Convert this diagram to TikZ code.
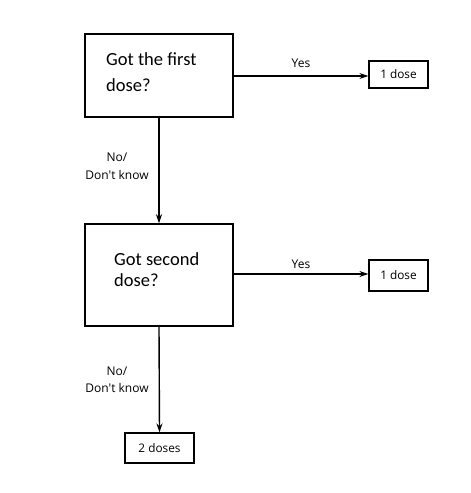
\documentclass[tikz,border=0pt]{standalone}
\usepackage{fontspec}
\setmainfont{Carlito}
\newfontfamily\labelfont{Open Sans}
\usetikzlibrary{arrows.meta}
\begin{document}
\begin{tikzpicture}[x=1pt,y=-1pt,
  qbox/.style={draw,line width=1.4pt,inner sep=0pt},
  rbox/.style={draw,line width=1.2pt,inner sep=0pt,font=\labelfont\fontsize{11.8}{13}\selectfont},
  qtext/.style={inner sep=0pt,anchor=base west,font=\fontsize{18.5}{22}\selectfont},
  lab/.style={inner sep=0pt,anchor=base,font=\labelfont\fontsize{12}{13}\selectfont},
  flow/.style={line width=1.4pt,-{Stealth[length=9pt,width=6pt]}}]
\useasboundingbox (0,0) rectangle (471,493);
\node[qbox,minimum width=148pt,minimum height=83pt] (q1) at (159,75.5) {};
\node[qbox,minimum width=148pt,minimum height=102pt] (q2) at (159,275) {};
\node[qtext] (t1a) at (106,65.7) {Got the first};
\node[qtext] (t1b) at (106,91.7) {dose?};
\node[qtext] (t2a) at (114,265) {Got second};
\node[qtext] (t2b) at (114,286.7) {dose?};
\node[rbox,minimum width=59pt,minimum height=27pt] (r1) at (398.5,74.5) {1 dose};
\node[rbox,minimum width=59pt,minimum height=31pt] (r2) at (398.5,275.5) {1 dose};
\node[rbox,minimum width=69pt,minimum height=30pt] (r3) at (159.5,448) {2 doses};
\coordinate (a1) at (233,76);
\coordinate (a2) at (233,274);
\draw[flow] (a1) -- (a1 -| r1.west);
\draw[flow] (a2) -- (a2 -| r2.west);
\draw[flow] (q1.south) -- (q2.north);
\draw[flow] (q2.south) -- (r3.north);
\node[lab] (y1) at (301,67.5) {Yes};
\node[lab] (y2) at (301,268.5) {Yes};
\node[lab] (n1a) at (117,161) {No/};
\node[lab] (n1b) at (117,179) {Don't know};
\node[lab] (n2a) at (117,375) {No/};
\node[lab] (n2b) at (117,392.5) {Don't know};
\end{tikzpicture}
\end{document}
